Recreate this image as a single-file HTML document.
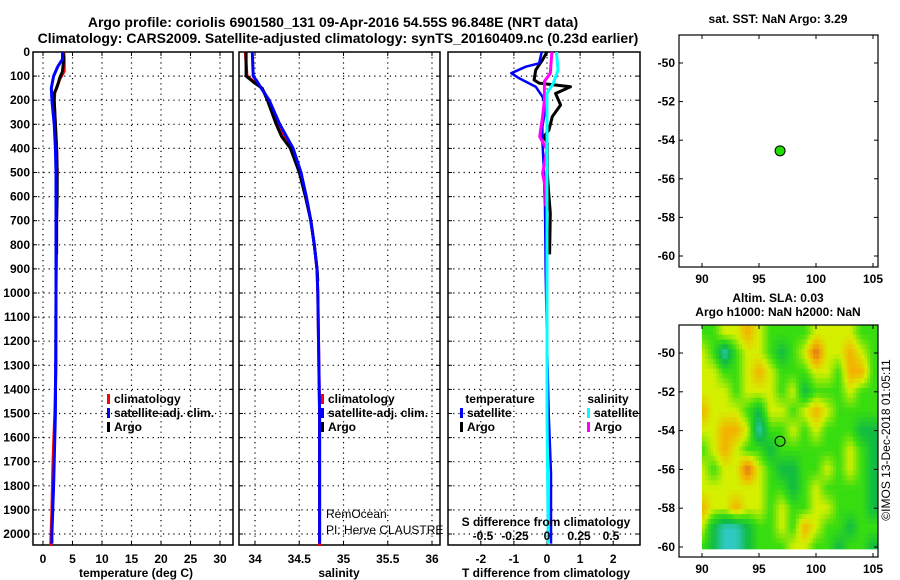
<!DOCTYPE html>
<html><head><meta charset="utf-8"><style>
html,body{margin:0;padding:0;background:#fff;}
svg{display:block;font-family:"Liberation Sans",sans-serif;}
.t{font-weight:bold;font-size:12px;fill:#000;}
.ttl{font-weight:bold;font-size:14px;fill:#000;}
</style></head><body>
<svg id="chart" width="900" height="580" viewBox="0 0 900 580"></svg>
<script>
// ---------- data ----------
const depthTicks = [0,100,200,300,400,500,600,700,800,900,1000,1100,1200,1300,1400,1500,1600,1700,1800,1900,2000];
const tTicks = [0,5,10,15,20,25,30];
const sTicks = [34,34.5,35,35.5,36];
const sTickLabels = ["34","34.5","35","35.5","36"];
const dTTicks = [-2,-1,0,1,2];
const dSTicks = [-0.5,-0.25,0,0.25,0.5];
const dSTickLabels = ["-0.5","-0.25","0","0.25","0.5"];

const argoTDepth = [0,30,80,110,130,150,170,200,300,400,500,600,700,800,840];
const argoT      = [3.4,3.5,3.3,2.8,2.6,2.3,1.9,1.9,2.1,2.3,2.4,2.4,2.3,2.3,2.3];
const climTDepth = [0,30,80,110,140,170,200,300,400,500,600,800,1000,1300,1500,1700,1900,2050];
const climT      = [3.5,3.6,3.6,2.9,2.4,2.0,1.9,2.1,2.3,2.4,2.3,2.3,2.2,2.2,2.0,1.7,1.5,1.3];
const satTDepth  = [0,30,60,100,150,200,300,400,500,1000,1500,1800,2000,2040];
const satT       = [3.3,3.3,2.5,1.8,1.4,1.5,1.9,2.1,2.2,2.2,2.1,1.8,1.5,1.5];

const argoSDepth = [0,100,130,150,200,300,350,400,500,600,700,800,900,950];
const argoS      = [33.90,33.90,34.00,34.08,34.14,34.24,34.30,34.40,34.50,34.57,34.63,34.67,34.70,34.71];
const climSDepth = [0,100,130,150,200,300,400,500,600,700,800,900,1000,1500,2050];
const climS      = [33.89,33.91,34.01,34.08,34.15,34.26,34.42,34.51,34.58,34.63,34.67,34.70,34.71,34.73,34.73];
const satSDepth  = [0,100,120,150,200,300,400,500,600,700,800,900,1000,1500,2040];
const satS       = [33.97,33.98,34.02,34.07,34.16,34.28,34.43,34.52,34.58,34.63,34.67,34.70,34.71,34.73,34.73];

const dTSatDepth = [0,47,61,88,109,144,185,227,310,365,503,641,918,1200,1500,1750,2000,2040];
const dTSat      = [-0.16,-0.24,-0.64,-1.08,-0.84,-0.34,-0.14,-0.04,-0.14,-0.14,-0.09,-0.06,-0.04,0.0,0.05,0.12,0.12,0.12];
const dTArgoDepth = [0,33,75,116,129,144,172,220,268,323,351,379,503,600,669,840];
const dTArgo      = [0.0,-0.14,-0.34,-0.39,-0.24,0.71,0.26,0.41,0.16,0.06,-0.09,0.01,0.01,0.06,0.10,0.08];
const dSSatDepth = [0,75,129,172,503,968,1500,2040];
const dSSat      = [0.074,0.086,0.05,0.0,0.0,0.0,0.0,0.01];
const dSArgoDepth = [0,88,122,200,268,351,406,503,572,640];
const dSArgo      = [0.038,0.026,-0.02,-0.02,-0.034,-0.057,0.0,-0.034,-0.01,-0.01];

const argoLon = 96.848, argoLat = -54.55;
const lonTicks = [90,95,100,105];
const latTicks = [-50,-52,-54,-56,-58,-60];
// SLA colour-level grid, rows lat -49..-60, cols lon 90..105
const slaLats = [-49,-50,-51,-52,-53,-54,-55,-56,-57,-58,-59,-60];
const slaLons = [90,91,92,93,94,95,96,97,98,99,100,101,102,103,104,105];
const slaRow49 = [2,2,3,3,4,3,2,2,2,2,3,3,3,3,2,2];
const slaRow50 = [3,2,0,2,3,3,2,1,2,3,5,3,3,4,3,2];
const slaRow51 = [3,3,2,2,3,4,3,2,2,2,3,3,2,4,4,2];
const slaRow52 = [3,3,3,2,3,3,3,2,3,1,2,2,2,3,2,2];
const slaRow53 = [4,3,3,3,2,1,3,3,2,3,4,3,2,2,2,2];
const slaRow54 = [3,3,4,4,3,0,2,2,3,2,3,2,2,2,1,1];
const slaRow55 = [2,3,4,3,2,2,1,2,2,2,2,2,2,3,2,1];
const slaRow56 = [3,2,3,3,5,3,2,1,1,2,2,3,2,3,2,1];
const slaRow57 = [3,3,3,3,3,3,2,2,1,2,3,2,2,2,2,1];
const slaRow58 = [4,3,3,4,3,3,2,3,2,2,3,3,2,2,2,1];
const slaRow59 = [3,1,0,0,1,2,2,3,2,4,3,2,2,1,2,2];
const slaRow60 = [2,1,0,0,1,2,2,2,3,3,2,2,1,2,2,1];
const slaRows = [slaRow49,slaRow50,slaRow51,slaRow52,slaRow53,slaRow54,slaRow55,slaRow56,slaRow57,slaRow58,slaRow59,slaRow60];

// ---------- helpers ----------
const NS = "http://www.w3.org/2000/svg";
const svg = document.getElementById("chart");
function mk(tag, attrs, parent){const e=document.createElementNS(NS,tag);for(const k in attrs)e.setAttribute(k,attrs[k]);(parent||svg).appendChild(e);return e;}
function txt(x,y,s,cls,anchor,parent){const e=mk("text",{x:x,y:y,class:cls||"t","text-anchor":anchor||"middle"},parent);e.textContent=s;return e;}

const Y0=52, YB=545;
const yD = d => Y0 + d*0.241;
const panels = [
 {l:33,r:233,x:v=>43+(v)*5.9,ticks:tTicks,labels:tTicks.map(String),name:"temperature-panel"},
 {l:239,r:440,x:v=>255+(v-34)*88.5,ticks:sTicks,labels:sTickLabels,name:"salinity-panel"},
 {l:448,r:640,x:v=>547+v*33.1,ticks:dTTicks,labels:dTTicks.map(String),name:"difference-panel"}
];
const xS = v => 547 + v*128;

let e;
e=txt(333,27,"Argo profile: coriolis 6901580_131 09-Apr-2016 54.55S 96.848E (NRT data)","ttl");


e=txt(338,43,"Climatology: CARS2009. Satellite-adjusted climatology: synTS_20160409.nc (0.23d earlier)","ttl");



function drawPanel(p){
  const g=mk("g",{});
  
  
  depthTicks.forEach(d=>{
    const y=yD(d);
    if(d>0) mk("line",{x1:p.l,x2:p.r,y1:y,y2:y,stroke:"#000","stroke-width":1.2,"stroke-dasharray":"1.2,4"},g);
    mk("line",{x1:p.l,x2:p.l+4,y1:y,y2:y,stroke:"#000"},g);
    mk("line",{x1:p.r-4,x2:p.r,y1:y,y2:y,stroke:"#000"},g);
  });
  p.ticks.forEach((v,i)=>{
    const x=p.x(v);
    mk("line",{x1:x,x2:x,y1:Y0,y2:YB,stroke:"#000","stroke-width":1.2,"stroke-dasharray":"1.2,4"},g);
    mk("line",{x1:x,x2:x,y1:YB-4,y2:YB,stroke:"#000"},g);
    mk("line",{x1:x,x2:x,y1:Y0,y2:Y0+4,stroke:"#000"},g);
    const t=txt(x,563,p.labels[i],"t","middle",g);
    
    
  });
  mk("rect",{x:p.l,y:Y0,width:p.r-p.l,height:YB-Y0,fill:"none",stroke:"#000","stroke-width":1.5},g);
  return g;
}
const gs = panels.map(drawPanel);
depthTicks.forEach(d=>{
  const t=txt(30,yD(d)+4,String(d),"t","end");
  
  
});
[["temperature (deg C)",136],["salinity",339],["T difference from climatology",546]].forEach(a=>{
  const t=txt(a[1],577,a[0]);
  
  
});

function line(xs,ds,xf,color,name,w){
  const pts=xs.map((v,i)=>xf(v).toFixed(1)+","+yD(ds[i]).toFixed(1)).join(" ");
  const pl=mk("polyline",{points:pts,fill:"none",stroke:color,"stroke-width":w||3,"stroke-linejoin":"round"});
  
  
}
line(climT,climTDepth,panels[0].x,"#ff0000","temperature-climatology-line");
line(argoT,argoTDepth,panels[0].x,"#000000","temperature-argo-line");
line(satT,satTDepth,panels[0].x,"#0000ff","temperature-satellite-line");
line(climS,climSDepth,panels[1].x,"#ff0000","salinity-climatology-line");
line(argoS,argoSDepth,panels[1].x,"#000000","salinity-argo-line");
line(satS,satSDepth,panels[1].x,"#0000ff","salinity-satellite-line");
line(dTArgo,dTArgoDepth,panels[2].x,"#000000","t-diff-argo-line");
line(dTSat,dTSatDepth,panels[2].x,"#0000ff","t-diff-satellite-line",2.5);
line(dSArgo,dSArgoDepth,xS,"#ff00ff","s-diff-argo-line");
line(dSSat,dSSatDepth,xS,"#00ffff","s-diff-satellite-line");

e=txt(546,526,"S difference from climatology");


dSTicks.forEach((v,i)=>{
  const t=txt(xS(v),540,dSTickLabels[i]);
  
  
});

function legItem(x,y,color,label,name){
  const g=mk("g",{});
  
  
  mk("rect",{x:x,y:y-9,width:3,height:10,fill:color},g);
  txt(x+7,y,label,"t","start",g);
}
[[107,"temperature"],[321,"salinity"]].forEach(a=>{
  legItem(a[0],403,"#ff0000","climatology","legend-entry-climatology");
  legItem(a[0],417,"#0000ff","satellite-adj. clim.","legend-entry-satellite");
  legItem(a[0],431,"#000000","Argo","legend-entry-argo");
});
e=txt(500,403,"temperature");
e=txt(608,403,"salinity");
legItem(460,417,"#0000ff","satellite","legend-entry-t-satellite");
legItem(460,431,"#000000","Argo","legend-entry-t-argo");
legItem(587,417,"#00ffff","satellite","legend-entry-s-satellite");
legItem(587,431,"#ff00ff","Argo","legend-entry-s-argo");
e=txt(326,518,"RemOcean","t","start");e.setAttribute('class','');e.setAttribute('font-size','12');
e=txt(326,534,"PI: Herve CLAUSTRE","t","start");e.setAttribute('class','');e.setAttribute('font-size','12');

// ---------- maps ----------
const mapL=679,mapR=878;
const mxf = lon => 702 + (lon-90)*11.4;
function makeMap(top,bottom,myf,name){
  const g=mk("g",{});
  
  
  return {g:g,myf:myf,top:top,bottom:bottom};
}
function mapAxes(m){
  mk("rect",{x:mapL,y:m.top,width:mapR-mapL,height:m.bottom-m.top,fill:"none",stroke:"#000","stroke-width":1.2},m.g);
  lonTicks.forEach(v=>{
    const x=mxf(v);
    mk("line",{x1:x,x2:x,y1:m.bottom-4,y2:m.bottom,stroke:"#000"},m.g);
    mk("line",{x1:x,x2:x,y1:m.top,y2:m.top+4,stroke:"#000"},m.g);
    const t=txt(x,m.bottom+16,String(v),"t","middle",m.g);
    
    
  });
  latTicks.forEach(v=>{
    const y=m.myf(v);
    mk("line",{x1:mapL,x2:mapL+4,y1:y,y2:y,stroke:"#000"},m.g);
    mk("line",{x1:mapR-4,x2:mapR,y1:y,y2:y,stroke:"#000"},m.g);
    const t=txt(mapL-4,y+4,String(v),"t","end",m.g);
    
    
  });
}
const m1f = lat => 63 + (-50-lat)*19.3;
const m1 = makeMap(35,267,m1f,"sst-location-map");
mapAxes(m1);
e=mk("circle",{cx:mxf(argoLon),cy:m1f(argoLat),r:5,fill:"#22dd00",stroke:"#000","stroke-width":1});


e=txt(778,23,"sat. SST: NaN Argo: 3.29");

const m2f = lat => 353 + (-50-lat)*19.4;
const m2 = makeMap(325,557,m2f,"sla-map");
const pal = [[48,200,192],[16,187,68],[56,221,16],[212,240,0],[244,176,0],[216,112,32]];
function colorAt(v){
  v=Math.max(0,Math.min(5,v));const i=Math.min(4,Math.floor(v)),f=v-i;
  const a=pal[i],b=pal[i+1];
  return "rgb("+a.map((c,k)=>Math.round(c+(b[k]-c)*f)).join(",")+")";
}
function sample(r,c){ // bilinear on the level grid (fractional indices)
  r=Math.max(0,Math.min(slaRows.length-1,r));c=Math.max(0,Math.min(slaLons.length-1,c));
  const r0=Math.floor(r),c0=Math.floor(c),r1=Math.min(r0+1,slaRows.length-1),c1=Math.min(c0+1,slaLons.length-1);
  const fr=r-r0,fc=c-c0;
  const v00=slaRows[r0][c0],v01=slaRows[r0][c1],v10=slaRows[r1][c0],v11=slaRows[r1][c1];
  return (v00*(1-fc)+v01*fc)*(1-fr)+(v10*(1-fc)+v11*fc)*fr;
}
const hm=mk("g",{});


m2.g.appendChild(hm);
const SUB=4;
const x0=mxf(slaLons[0]), x1=mapR, yTop=m2.top, yBot=m2f(slaLats[slaLats.length-1]-0.1);
const cw=11.4/SUB, ch=19.4/SUB;
for(let y=yTop;y<yBot;y+=ch){
  const latv=-50-(y+ch/2-353)/19.4;
  const r=(slaLats[0]-latv)/(slaLats[0]-slaLats[1]);
  for(let x=x0;x<x1;x+=cw){
    const lonv=90+(x+cw/2-702)/11.4;
    const c=lonv-slaLons[0];
    const cell=mk("rect",{x:x.toFixed(2),y:y.toFixed(2),width:(Math.min(cw,x1-x)+0.4).toFixed(2),height:(Math.min(ch,yBot-y)+0.4).toFixed(2),fill:colorAt(sample(r,c))},hm);
    
    
  }
}
mapAxes(m2);
e=mk("circle",{cx:mxf(argoLon),cy:m2f(argoLat),r:5,fill:"none",stroke:"#000","stroke-width":1});


e=txt(778,302,"Altim. SLA: 0.03");
e=txt(778,316,"Argo h1000: NaN h2000: NaN");
e=mk("text",{x:0,y:0,"font-size":"12","text-anchor":"middle",transform:"translate(890,440) rotate(-90)"});
e.textContent="©IMOS 13-Dec-2018 01:05:11";


</script>
</body></html>
